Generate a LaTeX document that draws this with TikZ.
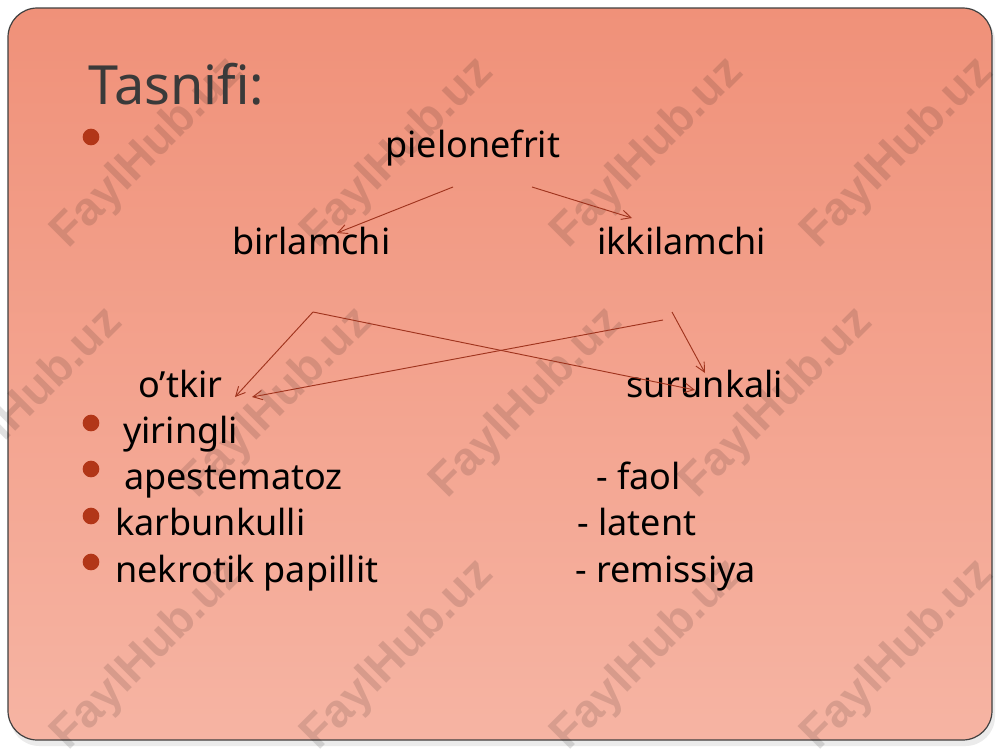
\documentclass[tikz,border=0pt]{standalone}
\usepackage{fontspec}
\setmainfont{Noto Sans}
\newfontfamily\wmfont{Liberation Sans}
\usetikzlibrary{arrows.meta}
\definecolor{slidetop}{RGB}{240,145,121}
\definecolor{slidebot}{RGB}{246,180,163}
\definecolor{arrowred}{RGB}{160,52,30}
\definecolor{bulletred}{RGB}{178,54,24}
\definecolor{titlegray}{RGB}{58,58,58}

\begin{document}
\begin{tikzpicture}[x=0.75pt,y=-0.75pt,
    txt/.style={anchor=base west,inner sep=0pt,font=\fontsize{27}{32}\selectfont},
    dot/.style={circle,fill=bulletred,inner sep=0pt,minimum size=12.5pt},
    con/.style={-{Straight Barb[length=7pt,width=7pt]},draw=arrowred,line width=0.7pt},
    wm/.style={rotate=45,font=\wmfont\bfseries\fontsize{35}{40}\selectfont,text=black,opacity=0.12}]
    \useasboundingbox(0,0)rectangle(1000,750);
    \fill[black,opacity=0.08,rounded corners=22pt](10,12)rectangle(995,746);
    \shade[top color=slidetop,bottom color=slidebot,rounded corners=22pt](8,8)rectangle(992,740);
    \draw[black!75,line width=0.9pt,rounded corners=22pt](8,8)rectangle(992,740);
    % watermark
    \foreach \x in {148,398,648,898}{
      \node[wm] at (\x,153){FaylHub.uz};
      \node[wm] at (\x,655){FaylHub.uz};}
    \foreach \x in {27,277,527,777}
      \node[wm] at (\x,403){FaylHub.uz};
    % text
    \node[anchor=base west,inner sep=0pt,text=titlegray,font=\fontsize{40.5}{48}\selectfont](title) at (88,104){Tasnifi:};
    \node[dot](d0) at (91,137){};
    \node[txt](pielo) at (385,157){pielonefrit};
    \node[txt](birl) at (232,254){birlamchi};
    \node[txt](ikki) at (597,254){ikkilamchi};
    \node[txt](otkir) at (138,397){o’tkir};
    \node[txt](surun) at (626,397){surunkali};
    \node[dot](d1) at (91,423){};
    \node[dot](d2) at (91,469){};
    \node[dot](d3) at (91,516){};
    \node[dot](d4) at (91,562){};
    \node[txt](yir) at (123,443){yiringli};
    \node[txt](apest) at (124,489){apestematoz};
    \node[txt](karb) at (115,535){karbunkulli};
    \node[txt](nekr) at (115,582){nekrotik papillit};
    \node[txt](faol) at (596,489){- faol};
    \node[txt](latent) at (577,535){- latent};
    \node[txt](remis) at (575,582){- remissiya};
    % arrows
    \coordinate(pl) at (453,187); \coordinate(pr) at (532,187);
    \coordinate(bs) at (313,312); \coordinate(is) at (663,320); \coordinate(is2) at (672,312);
    \coordinate(be) at (337,233); \coordinate(ie) at (632,218);
    \coordinate(oe1) at (235,397); \coordinate(oe2) at (252,397);
    \coordinate(se1) at (695,390); \coordinate(se2) at (705,373);
    \draw[con](pl)--(be);
    \draw[con](pr)--(ie);
    \draw[con](bs)--(oe1);
    \draw[con](bs)--(se1);
    \draw[con](is)--(oe2);
    \draw[con](is2)--(se2);
\end{tikzpicture}
\end{document}
